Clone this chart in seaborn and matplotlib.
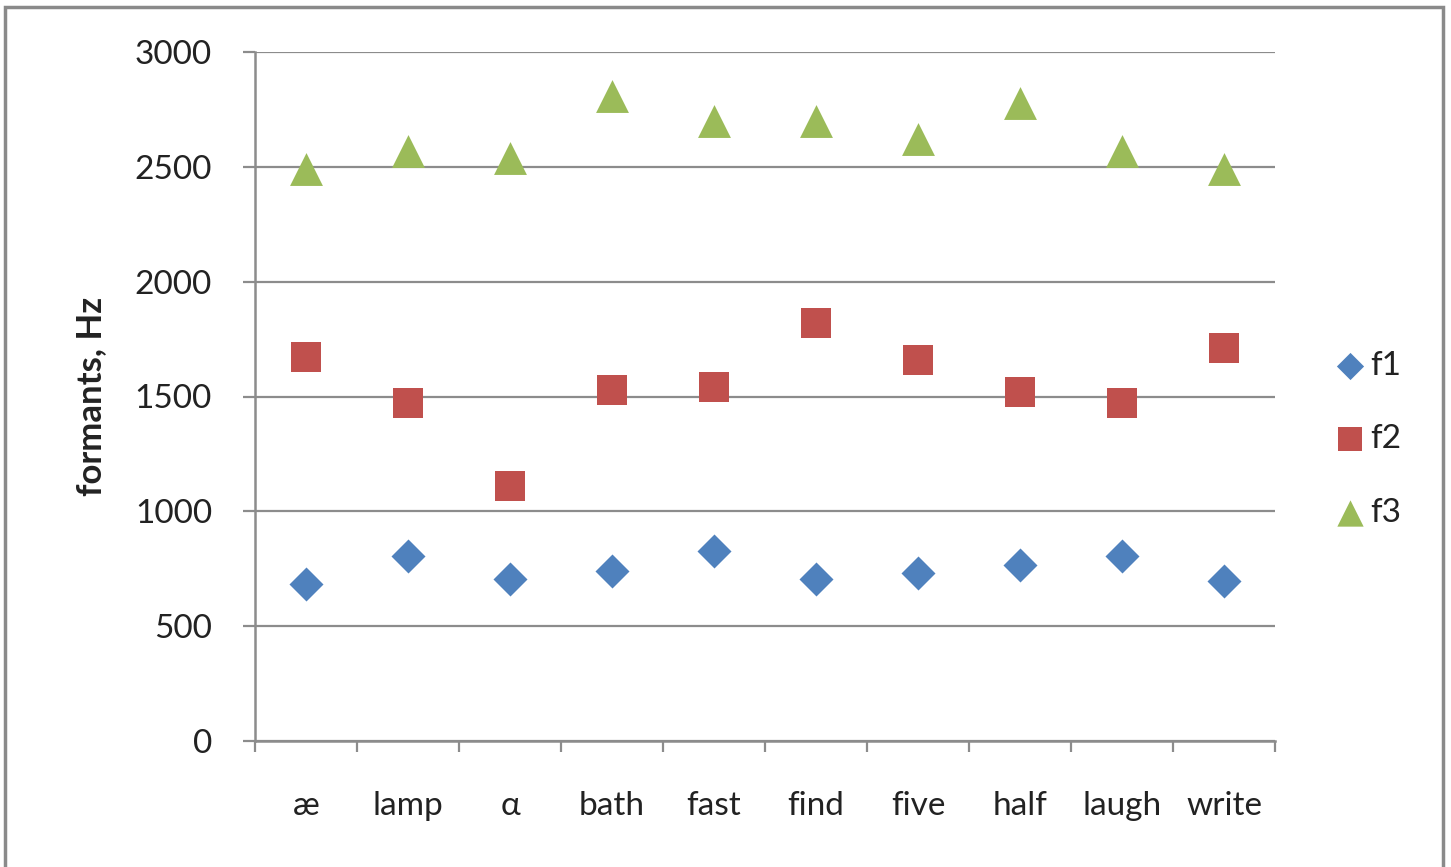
import matplotlib
matplotlib.use("Agg")
import matplotlib.pyplot as plt
from matplotlib.patches import Rectangle
from matplotlib.ticker import FixedLocator, MultipleLocator
import pandas as pd
import seaborn as sns

# Formant measurements per word / vowel (Hz)
words = ["æ", "lamp", "α", "bath", "fast", "find", "five", "half", "laugh", "write"]
f1 = [685, 805, 705, 740, 827, 705, 731, 766, 805, 697]
f2 = [1670, 1470, 1110, 1530, 1540, 1820, 1660, 1520, 1470, 1710]
f3 = [2490, 2570, 2540, 2810, 2700, 2700, 2620, 2780, 2570, 2490]

series_names = ["f1", "f2", "f3"]
series_colors = ["#4F81BD", "#C0504D", "#9BBB59"]
series_markers = ["D", "s", "^"]
series_sizes = [300, 460, 560]

sns.set_theme(style="white")
plt.rcParams["font.family"] = ["Lato", "DejaVu Sans"]
text_color = "#222222"

fig = plt.figure(figsize=(14.51, 8.67), dpi=100)
ax = fig.add_axes([255 / 1451, 1 - 741 / 867, (1275 - 255) / 1451, (741 - 52) / 867])

df = pd.DataFrame({"word": words, "f1": f1, "f2": f2, "f3": f3})
for name, color, marker, size in zip(series_names, series_colors, series_markers, series_sizes):
    sns.scatterplot(data=df, x="word", y=name, ax=ax, color=color, marker=marker,
                    s=size, linewidth=0, label=name, zorder=3)

ax.set_xlim(-0.5, len(words) - 0.5)
ax.set_ylim(0, 3000)
ax.yaxis.set_major_locator(MultipleLocator(500))
ax.grid(axis="y", color="#8c8c8c", linewidth=1.6)
ax.grid(axis="x", visible=False)

for side in ["top", "right"]:
    ax.spines[side].set_visible(False)
for side in ["left", "bottom"]:
    ax.spines[side].set_color("#8c8c8c")
    ax.spines[side].set_linewidth(1.8)

# category boundaries as major ticks, names centred as minor ticks
ax.xaxis.set_major_locator(FixedLocator([i - 0.5 for i in range(len(words) + 1)]))
ax.xaxis.set_minor_locator(FixedLocator(list(range(len(words)))))
ax.set_xticklabels([], minor=False)
ax.set_xticklabels(words, minor=True)
ax.tick_params(axis="x", which="major", direction="out", length=8, width=1.6,
               color="#8c8c8c", bottom=True)
ax.tick_params(axis="x", which="minor", length=0, pad=36, labelsize=24,
               labelcolor=text_color, bottom=True)
ax.tick_params(axis="y", direction="out", length=9, width=1.6, color="#8c8c8c",
               left=True, pad=22, labelsize=24, labelcolor=text_color)

ax.set_xlabel("")
ax.set_ylabel("formants, Hz", fontsize=25, fontweight="bold", color=text_color, labelpad=20)

leg = ax.legend(loc="center left", bbox_to_anchor=(1.057, 0.438), frameon=False,
                fontsize=24, labelspacing=1.3, handlelength=1.0, handletextpad=0.1,
                borderpad=0, borderaxespad=0, markerscale=0.8, labelcolor=text_color)

# outer chart frame
fig.add_artist(Rectangle((5 / 1451, -0.02), (1443 - 5) / 1451, 1.02 - 7 / 867,
                         transform=fig.transFigure, fill=False,
                         edgecolor="#8a8a8a", linewidth=2.5))

fig.savefig("out.png", dpi=100)
